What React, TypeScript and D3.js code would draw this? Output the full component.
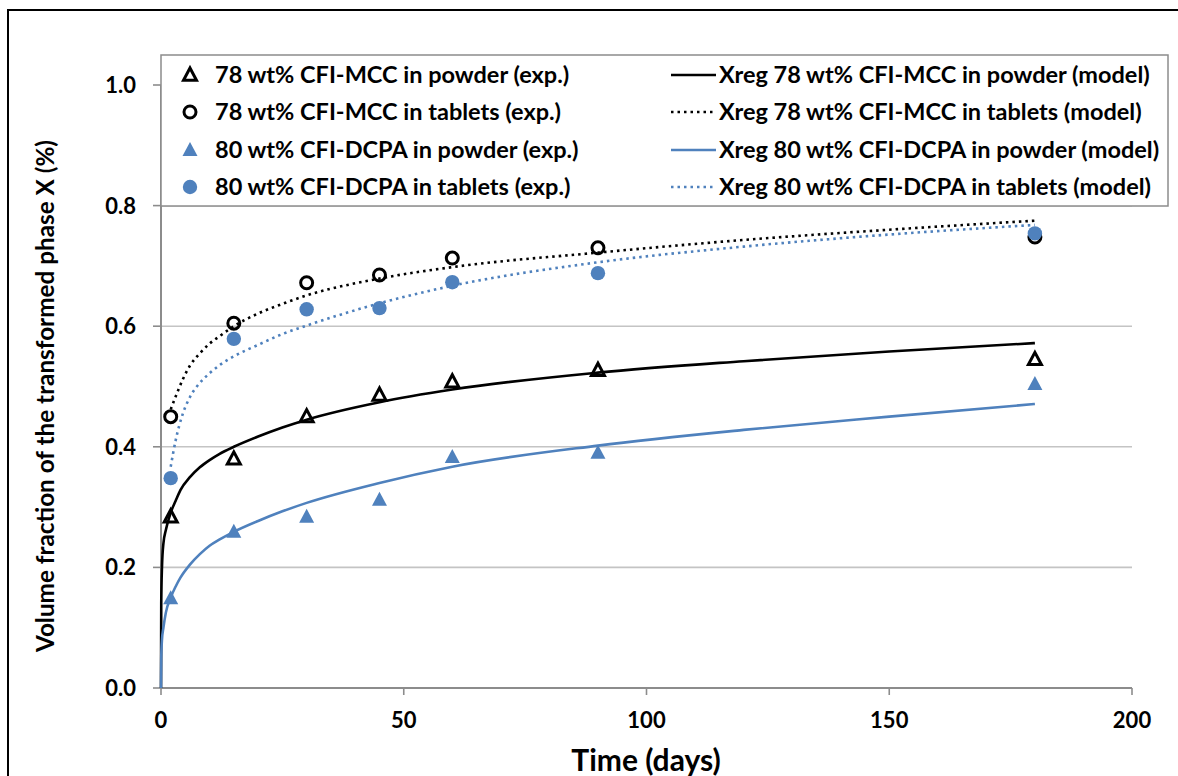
import React from "react";
import * as d3 from "d3";

// ---- data ----
const expDays = [2, 15, 30, 45, 60, 90, 180];
const mccPowderExp = [0.284, 0.38, 0.45, 0.486, 0.508, 0.527, 0.545];
const mccTabletExp = [0.45, 0.605, 0.672, 0.685, 0.713, 0.73, 0.748];
const dcpaPowderExp = [0.149, 0.259, 0.284, 0.312, 0.383, 0.39, 0.504];
const dcpaTabletExp = [0.348, 0.579, 0.628, 0.63, 0.673, 0.688, 0.754];

const powderModelDays = [0, 0.05, 0.2, 0.5, 1, 2, 3, 4, 6, 8, 10, 12, 15, 20, 25, 30, 45, 60, 90, 120, 150, 180];
const mccPowderModel = [0, 0.14, 0.2, 0.24, 0.262, 0.291, 0.31, 0.328, 0.35, 0.366, 0.378, 0.388, 0.4, 0.417, 0.432, 0.445, 0.474, 0.495, 0.523, 0.542, 0.558, 0.572];
const dcpaPowderModel = [0, 0.05, 0.08, 0.1, 0.125, 0.15, 0.168, 0.183, 0.205, 0.222, 0.236, 0.246, 0.259, 0.277, 0.293, 0.307, 0.34, 0.367, 0.402, 0.428, 0.45, 0.471];

const tabletModelDays = [2, 3, 4.5, 6, 8, 10, 12, 15, 20, 25, 30, 45, 60, 90, 120, 150, 180];
const mccTabletModel = [0.462, 0.483, 0.512, 0.535, 0.555, 0.571, 0.583, 0.6, 0.621, 0.637, 0.651, 0.679, 0.698, 0.722, 0.743, 0.76, 0.775];
const dcpaTabletModel = [0.367, 0.41, 0.455, 0.483, 0.506, 0.522, 0.535, 0.55, 0.569, 0.587, 0.601, 0.638, 0.667, 0.706, 0.732, 0.752, 0.768];

const xTicks = [0, 50, 100, 150, 200];
const yTicks = [0, 0.2, 0.4, 0.6, 0.8, 1.0];

const expLabels = [
  "78 wt% CFI-MCC in powder (exp.)",
  "78 wt% CFI-MCC in tablets (exp.)",
  "80 wt% CFI-DCPA in powder (exp.)",
  "80 wt% CFI-DCPA in tablets (exp.)",
];
const modelLabels = [
  "Xreg 78 wt% CFI-MCC in powder (model)",
  "Xreg 78 wt% CFI-MCC in tablets (model)",
  "Xreg 80 wt% CFI-DCPA in powder (model)",
  "Xreg 80 wt% CFI-DCPA in tablets (model)",
];

const BLUE = "#4F81BD";
const FONT = "Lato, 'Open Sans', sans-serif";

const W = 1178;
const H = 776;
const plot = { left: 161, right: 1132, top: 85, bottom: 688 };

const x = d3.scaleLinear().domain([0, 200]).range([plot.left, plot.right]);
const y = d3.scaleLinear().domain([0, 1]).range([plot.bottom, plot.top]);

type Marker = "triOpen" | "circOpen" | "triFill" | "circFill";

function MarkerShape({ kind, cx, cy }: { kind: Marker; cx: number; cy: number }) {
  if (kind === "triOpen") {
    const p = `M${cx},${cy - 7}L${cx - 6.5},${cy + 5.2}L${cx + 6.5},${cy + 5.2}Z`;
    return <path d={p} fill="none" stroke="#000" strokeWidth={3} strokeLinejoin="miter" />;
  }
  if (kind === "triFill") {
    const p = `M${cx},${cy - 8}L${cx - 7.5},${cy + 6}L${cx + 7.5},${cy + 6}Z`;
    return <path d={p} fill={BLUE} />;
  }
  if (kind === "circOpen") {
    return <circle cx={cx} cy={cy} r={6} fill="none" stroke="#000" strokeWidth={3} />;
  }
  return <circle cx={cx} cy={cy} r={7.2} fill={BLUE} />;
}

export default function App() {
  const line = d3
    .line<[number, number]>()
    .x((d) => x(d[0]))
    .y((d) => y(d[1]))
    .curve(d3.curveMonotoneX);

  const models = [
    { days: powderModelDays, vals: mccPowderModel, color: "#000", dash: undefined },
    { days: tabletModelDays, vals: mccTabletModel, color: "#000", dash: "2.5 4" },
    { days: powderModelDays, vals: dcpaPowderModel, color: BLUE, dash: undefined },
    { days: tabletModelDays, vals: dcpaTabletModel, color: BLUE, dash: "2.5 4" },
  ];
  const exps: { vals: number[]; kind: Marker }[] = [
    { vals: mccPowderExp, kind: "triOpen" },
    { vals: mccTabletExp, kind: "circOpen" },
    { vals: dcpaPowderExp, kind: "triFill" },
    { vals: dcpaTabletExp, kind: "circFill" },
  ];

  const fmt = d3.format(".1f");
  const legendRows = [75, 112, 150, 187];

  return (
    <svg
      width={W}
      height={H}
      style={{ position: "absolute", left: 0, top: 0, background: "#fff" }}
      fontFamily={FONT}
    >
      <rect x={0} y={0} width={W} height={H} fill="#fff" />
      {/* outer chart border */}
      <rect x={8} y={10} width={W + 20} height={H + 20} fill="none" stroke="#000" strokeWidth={2} />

      {/* gridlines */}
      {yTicks
        .filter((t) => t > 0)
        .map((t) => (
          <line key={t} x1={plot.left} x2={plot.right} y1={y(t)} y2={y(t)} stroke="#c4c4c4" strokeWidth={1.6} />
        ))}

      {/* axes */}
      <line x1={plot.left} x2={plot.left} y1={plot.top} y2={plot.bottom} stroke="#8c8c8c" strokeWidth={2} />
      <line x1={plot.left} x2={plot.right} y1={plot.bottom} y2={plot.bottom} stroke="#8c8c8c" strokeWidth={2} />
      {yTicks.map((t) => (
        <g key={t}>
          <line x1={plot.left - 8} x2={plot.left} y1={y(t)} y2={y(t)} stroke="#8c8c8c" strokeWidth={1.6} />
          <text x={136} y={y(t)} dy="0.36em" textAnchor="end" fontSize={22} fontWeight={700} fill="#000">
            {fmt(t)}
          </text>
        </g>
      ))}
      {xTicks.map((t) => (
        <g key={t}>
          <line x1={x(t)} x2={x(t)} y1={plot.bottom} y2={plot.bottom + 7} stroke="#8c8c8c" strokeWidth={1.6} />
          <text x={x(t)} y={728} textAnchor="middle" fontSize={22} fontWeight={700} fill="#000">
            {t}
          </text>
        </g>
      ))}

      {/* axis titles */}
      <text x={646} y={771} textAnchor="middle" fontSize={30} fontWeight={700} fill="#000">
        Time (days)
      </text>
      <text
        transform={`translate(54,${396}) rotate(-90)`}
        textAnchor="middle"
        fontSize={24.3}
        fontWeight={700}
        fill="#000"
      >
        Volume fraction of the transformed phase X (%)
      </text>

      {/* model curves */}
      {models.map((m, i) => (
        <path
          key={i}
          d={line(m.days.map((d, j) => [d, m.vals[j]] as [number, number])) || ""}
          fill="none"
          stroke={m.color}
          strokeWidth={2.6}
          strokeDasharray={m.dash}
        />
      ))}

      {/* experimental points */}
      {exps.map((s, i) => (
        <g key={i}>
          {expDays.map((d, j) => (
            <MarkerShape key={j} kind={s.kind} cx={x(d)} cy={y(s.vals[j])} />
          ))}
        </g>
      ))}

      {/* legend */}
      <rect x={plot.left} y={55} width={1007} height={151} fill="#fff" stroke="#8c8c8c" strokeWidth={1.5} />
      {expLabels.map((lab, i) => (
        <g key={lab}>
          <MarkerShape kind={exps[i].kind} cx={190} cy={legendRows[i]} />
          <text x={215} y={legendRows[i]} dy="0.36em" fontSize={23.5} fontWeight={700} fill="#000">
            {lab}
          </text>
        </g>
      ))}
      {modelLabels.map((lab, i) => (
        <g key={lab}>
          <line
            x1={671}
            x2={716}
            y1={legendRows[i]}
            y2={legendRows[i]}
            stroke={models[i].color}
            strokeWidth={2.6}
            strokeDasharray={models[i].dash}
          />
          <text x={719} y={legendRows[i]} dy="0.36em" fontSize={23.5} fontWeight={700} fill="#000">
            {lab}
          </text>
        </g>
      ))}
    </svg>
  );
}
